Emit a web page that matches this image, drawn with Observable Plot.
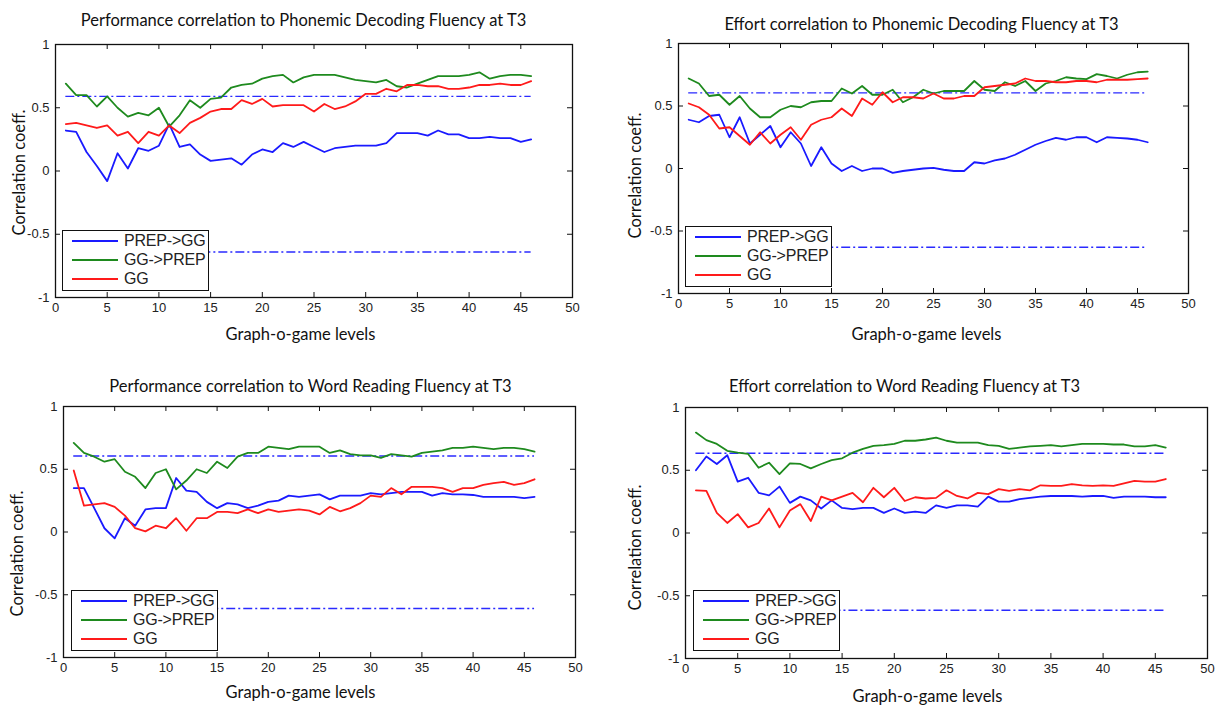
<!DOCTYPE html>
<html>
<head>
<meta charset="utf-8">
<script src="https://cdn.jsdelivr.net/npm/d3@7"></script>
<script src="https://cdn.jsdelivr.net/npm/@observablehq/plot@0.6"></script>
<style>
  body { margin: 0; background: #fff; }
  #root { position: relative; width: 1217px; height: 708px; overflow: hidden; background: #fff; }
  .plotsvg { position: absolute; }
  .legend { position: absolute; box-sizing: border-box; border: 1.5px solid #111; background: #fff;
            font-family: "Liberation Sans", Arial, sans-serif; font-size: 16px; color: #222; }
  .legend .row { position: absolute; height: 18px; line-height: 18px; white-space: nowrap; }
  .legend .sw { position: absolute; top: 8px; height: 2px; }
  .legend .lbl { position: absolute; top: 0; letter-spacing: -0.2px; }
</style>
</head>
<body>
<div id="root"></div>
<script>
// ---------- data ----------
const levels = [1,2,3,4,5,6,7,8,9,10,11,12,13,14,15,16,17,18,19,20,21,22,23,24,25,26,27,28,29,30,31,32,33,34,35,36,37,38,39,40,41,42,43,44,45,46];
const xTicks = [0,5,10,15,20,25,30,35,40,45,50];
const yTicks = [-1,-0.5,0,0.5,1];
const yTickLabels = ["-1","-0.5","0","0.5","1"];
const seriesNames = ["PREP->GG","GG->PREP","GG"];
const seriesColors = ["#1a1aff","#1e8a1e","#ff1a1a"];
const titles = [
  "Performance correlation to Phonemic Decoding Fluency at T3",
  "Effort correlation to Phonemic Decoding Fluency at T3",
  "Performance correlation to Word Reading Fluency at T3",
  "Effort correlation to Word Reading Fluency at T3"
];
const xLabel = "Graph-o-game levels";
const yLabel = "Correlation coeff.";

// Panel 1: Performance vs Phonemic Decoding Fluency
const p1Prep   = [0.32,0.31,0.15,0.04,-0.08,0.14,0.02,0.18,0.16,0.20,0.37,0.19,0.21,0.13,0.08,0.09,0.10,0.05,0.13,0.17,0.15,0.22,0.19,0.23,0.19,0.15,0.18,0.19,0.20,0.20,0.20,0.22,0.30,0.30,0.30,0.28,0.32,0.29,0.29,0.26,0.26,0.27,0.26,0.26,0.23,0.25];
const p1GgPrep = [0.69,0.60,0.60,0.51,0.59,0.50,0.43,0.46,0.44,0.50,0.35,0.44,0.56,0.50,0.57,0.58,0.66,0.68,0.69,0.73,0.75,0.76,0.70,0.74,0.76,0.76,0.76,0.74,0.72,0.71,0.70,0.72,0.67,0.66,0.69,0.72,0.75,0.75,0.75,0.76,0.78,0.73,0.75,0.76,0.76,0.75];
const p1Gg     = [0.37,0.38,0.36,0.34,0.36,0.28,0.31,0.22,0.31,0.28,0.36,0.30,0.38,0.42,0.47,0.49,0.49,0.56,0.53,0.57,0.51,0.52,0.52,0.52,0.47,0.53,0.49,0.51,0.55,0.61,0.61,0.65,0.63,0.68,0.68,0.67,0.67,0.65,0.65,0.66,0.68,0.68,0.69,0.68,0.68,0.71];
const p1Thresh = [0.59,-0.64];

// Panel 2: Effort vs Phonemic Decoding Fluency
const p2Prep   = [0.39,0.37,0.42,0.43,0.25,0.41,0.20,0.27,0.34,0.17,0.29,0.20,0.02,0.17,0.04,-0.02,0.02,-0.02,0.00,0.00,-0.035,-0.02,-0.01,0.00,0.005,-0.01,-0.02,-0.02,0.05,0.04,0.065,0.08,0.11,0.15,0.19,0.22,0.245,0.23,0.25,0.25,0.21,0.25,0.245,0.24,0.23,0.21];
const p2GgPrep = [0.72,0.68,0.58,0.59,0.51,0.58,0.48,0.41,0.41,0.47,0.50,0.49,0.53,0.54,0.54,0.64,0.60,0.66,0.59,0.59,0.63,0.53,0.57,0.63,0.60,0.62,0.62,0.62,0.70,0.63,0.62,0.69,0.66,0.70,0.62,0.68,0.70,0.73,0.72,0.715,0.755,0.74,0.72,0.75,0.77,0.775];
const p2Gg     = [0.52,0.49,0.43,0.32,0.33,0.26,0.19,0.29,0.20,0.27,0.33,0.23,0.35,0.39,0.41,0.48,0.42,0.56,0.51,0.61,0.53,0.57,0.57,0.56,0.60,0.56,0.56,0.58,0.58,0.65,0.66,0.67,0.68,0.72,0.70,0.70,0.69,0.69,0.70,0.70,0.69,0.71,0.71,0.71,0.715,0.72];
const p2Thresh = [0.605,-0.63];

// Panel 3: Performance vs Word Reading Fluency
const p3Prep   = [0.35,0.35,0.19,0.03,-0.05,0.11,0.05,0.18,0.19,0.19,0.43,0.33,0.32,0.24,0.19,0.23,0.22,0.19,0.21,0.24,0.25,0.29,0.28,0.29,0.30,0.26,0.29,0.29,0.29,0.31,0.30,0.31,0.32,0.32,0.32,0.29,0.31,0.30,0.30,0.295,0.28,0.28,0.28,0.28,0.27,0.28];
const p3GgPrep = [0.71,0.63,0.60,0.56,0.58,0.48,0.44,0.35,0.47,0.50,0.34,0.41,0.50,0.47,0.56,0.51,0.60,0.63,0.63,0.68,0.67,0.66,0.68,0.68,0.68,0.63,0.65,0.62,0.61,0.61,0.59,0.62,0.61,0.60,0.63,0.64,0.65,0.67,0.67,0.68,0.67,0.66,0.67,0.67,0.66,0.64];
const p3Gg     = [0.49,0.21,0.22,0.23,0.20,0.13,0.03,0.005,0.05,0.03,0.11,0.01,0.11,0.11,0.16,0.16,0.15,0.18,0.15,0.18,0.16,0.17,0.18,0.17,0.14,0.20,0.165,0.19,0.23,0.29,0.28,0.35,0.30,0.36,0.36,0.36,0.35,0.32,0.35,0.35,0.375,0.39,0.40,0.375,0.39,0.42];
const p3Thresh = [0.605,-0.61];

// Panel 4: Effort vs Word Reading Fluency
const p4Prep   = [0.50,0.61,0.55,0.62,0.41,0.44,0.32,0.30,0.37,0.24,0.29,0.26,0.195,0.26,0.20,0.19,0.20,0.20,0.16,0.195,0.16,0.17,0.16,0.22,0.20,0.22,0.22,0.21,0.29,0.25,0.25,0.27,0.28,0.29,0.295,0.295,0.295,0.29,0.295,0.295,0.28,0.29,0.29,0.29,0.285,0.285];
const p4GgPrep = [0.80,0.74,0.71,0.655,0.64,0.63,0.52,0.56,0.47,0.555,0.55,0.515,0.55,0.58,0.595,0.64,0.67,0.695,0.70,0.71,0.735,0.735,0.745,0.76,0.735,0.72,0.72,0.72,0.70,0.695,0.67,0.68,0.69,0.695,0.70,0.69,0.70,0.71,0.71,0.71,0.705,0.705,0.69,0.69,0.70,0.68];
const p4Gg     = [0.34,0.335,0.16,0.08,0.15,0.045,0.08,0.195,0.045,0.18,0.23,0.095,0.29,0.26,0.29,0.32,0.245,0.36,0.285,0.36,0.255,0.285,0.275,0.28,0.34,0.295,0.275,0.32,0.31,0.35,0.335,0.35,0.34,0.38,0.375,0.375,0.39,0.38,0.375,0.38,0.375,0.395,0.415,0.41,0.41,0.43];
const p4Thresh = [0.635,-0.615];

// ---------- layout (page pixels) ----------
const panels = [
  { title: titles[0], series: [p1Prep, p1GgPrep, p1Gg], thresh: p1Thresh,
    svg: [0, 0, 605, 354], frame: [55, 44, 572, 297],
    titlePos: [303, 20], xLabelPos: [300, 334], yLabelPos: [19, 172], legend: [62, 230] },
  { title: titles[1], series: [p2Prep, p2GgPrep, p2Gg], thresh: p2Thresh,
    svg: [605, 0, 612, 354], frame: [678, 43, 1188, 293],
    titlePos: [921, 24], xLabelPos: [926, 334], yLabelPos: [635, 175], legend: [685, 226] },
  { title: titles[2], series: [p3Prep, p3GgPrep, p3Gg], thresh: p3Thresh,
    svg: [0, 354, 605, 354], frame: [63, 406, 575, 657],
    titlePos: [310, 386], xLabelPos: [300, 692], yLabelPos: [17, 553], legend: [71, 590] },
  { title: titles[3], series: [p4Prep, p4GgPrep, p4Gg], thresh: p4Thresh,
    svg: [605, 354, 612, 354], frame: [685, 407, 1207, 658],
    titlePos: [904, 386], xLabelPos: [927, 696], yLabelPos: [635, 547], legend: [693, 590] }
];

const root = document.getElementById("root");

panels.forEach(p => {
  const [sx, sy, sw, sh] = p.svg;
  const [fl, ft, fr, fb] = p.frame;
  const fw = fr - fl, fh = fb - ft;
  const rows = [];
  seriesNames.forEach((name, i) => {
    p.series[i].forEach((v, j) => rows.push({level: levels[j], value: v, series: name}));
  });
  const txt = {fill: "#111", fontFamily: "Lato, 'Open Sans', sans-serif", textAnchor: "middle", lineAnchor: "middle", frameAnchor: "top-left"};
  const chart = Plot.plot({
    width: sw, height: sh,
    marginLeft: fl - sx, marginRight: sx + sw - fr,
    marginTop: ft - sy, marginBottom: sy + sh - fb,
    x: {domain: [0, 50], label: null},
    y: {domain: [-1, 1], label: null},
    color: {domain: seriesNames, range: seriesColors},
    style: {background: "transparent", fontFamily: "'Liberation Sans', Arial, sans-serif", fontSize: "13px", color: "#222"},
    marks: [
      Plot.ruleY(p.thresh, {y: d => d, x1: levels[0], x2: levels[levels.length - 1],
        stroke: "#2a2aff", strokeWidth: 1.4, strokeDasharray: "9,3,2,3"}),
      Plot.line(rows, {x: "level", y: "value", z: "series", stroke: "series", strokeWidth: 1.8, strokeLinejoin: "round"}),
      Plot.tickX(xTicks, {x: d => d, insetTop: fh - 5, stroke: "#111"}),
      Plot.tickX(xTicks, {x: d => d, insetBottom: fh - 5, stroke: "#111"}),
      Plot.tickY(yTicks, {y: d => d, insetRight: fw - 5, stroke: "#111"}),
      Plot.tickY(yTicks, {y: d => d, insetLeft: fw - 5, stroke: "#111"}),
      Plot.frame({stroke: "#111", strokeWidth: 1.3}),
      Plot.axisX({ticks: xTicks, tickSize: 0, tickPadding: 5, label: null, tickFormat: d => String(d)}),
      Plot.axisY({ticks: yTicks, tickSize: 0, tickPadding: 6, label: null, tickFormat: d => yTickLabels[yTicks.indexOf(d)]}),
      Plot.text([p.title], {...txt, text: d => d, fontSize: 16.5, dx: p.titlePos[0] - fl, dy: p.titlePos[1] - ft}),
      Plot.text([xLabel], {...txt, text: d => d, fontSize: 16.5, dx: p.xLabelPos[0] - fl, dy: p.xLabelPos[1] - ft}),
      Plot.text([yLabel], {...txt, text: d => d, fontSize: 16.5, rotate: -90, dx: p.yLabelPos[0] - fl, dy: p.yLabelPos[1] - ft})
    ]
  });
  chart.classList.add("plotsvg");
  chart.style.left = sx + "px";
  chart.style.top = sy + "px";
  root.appendChild(chart);

  // legend inside the axes
  const lg = document.createElement("div");
  lg.className = "legend";
  lg.style.left = p.legend[0] + "px";
  lg.style.top = p.legend[1] + "px";
  lg.style.width = "147px";
  lg.style.height = "61px";
  seriesNames.forEach((name, i) => {
    const row = document.createElement("div");
    row.className = "row";
    row.style.left = "0px";
    row.style.top = (1 + i * 19) + "px";
    const swatch = document.createElement("div");
    swatch.className = "sw";
    swatch.style.left = "9px";
    swatch.style.width = "46px";
    swatch.style.background = seriesColors[i];
    const label = document.createElement("span");
    label.className = "lbl";
    label.style.left = "61px";
    label.textContent = name;
    row.appendChild(swatch);
    row.appendChild(label);
    lg.appendChild(row);
  });
  root.appendChild(lg);
});
</script>
</body>
</html>
